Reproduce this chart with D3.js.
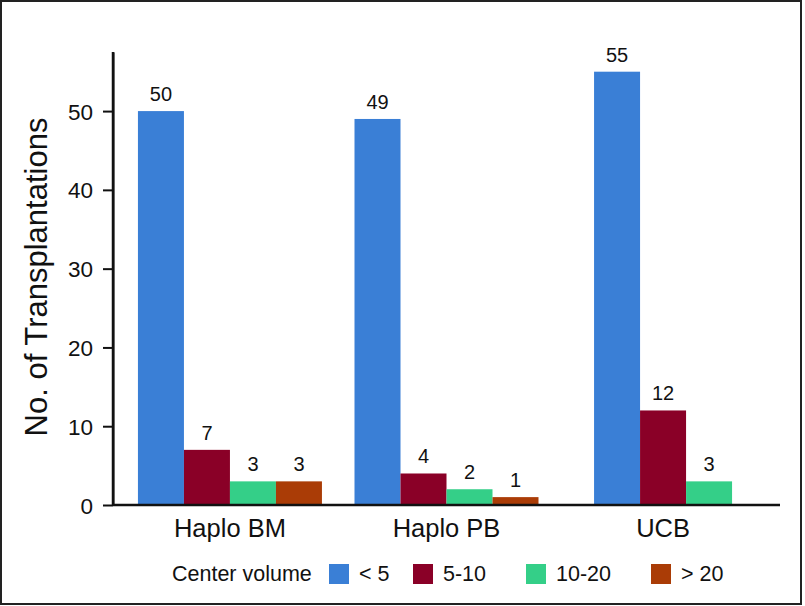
<!DOCTYPE html>
<html><head><meta charset="utf-8">
<script src="https://cdn.jsdelivr.net/npm/d3@7"></script>
<style>body{margin:0;background:#fff}svg{display:block;font-family:"Liberation Sans",Arial,sans-serif}</style>
</head><body><svg id="c" width="805" height="606"></svg>
<script>
const categories = ["Haplo BM", "Haplo PB", "UCB"];
const seriesNames = ["< 5", "5-10", "10-20", "> 20"];
const seriesColors = ["#3a7fd6", "#8a0027", "#34cf88", "#aa3c06"];
const valLt5 = [50, 49, 55];
const val5to10 = [7, 4, 12];
const val10to20 = [3, 2, 3];
const valGt20 = [3, 1, null];
const yTicks = [0, 10, 20, 30, 40, 50];
const yTitle = "No. of Transplantations";
const legendTitle = "Center volume";

const seriesVals = [valLt5, val5to10, val10to20, valGt20];
const svg = d3.select("#c");
svg.append("rect").attr("x", 1).attr("y", 1).attr("width", 800).attr("height", 603)
  .attr("fill", "#fff").attr("stroke", "#222").attr("stroke-width", 2);

const pL = 113, pR = 780, pT = 52, pB = 505;
const y = d3.scaleLinear().domain([0, 57.5]).range([pB, pT]);
const x = d3.scalePoint().domain(categories).range([pL, pR]).padding(0.54);
const barW = 46;

categories.forEach((c, ci) => {
  const present = seriesVals.map((s, si) => ({si, v: s[ci]})).filter(d => d.v != null);
  const x0 = x(c) - present.length * barW / 2;
  const g = svg.append("g");
  g.selectAll("rect").data(present).join("rect")
    .attr("x", (d, i) => x0 + i * barW).attr("width", barW)
    .attr("y", d => y(d.v)).attr("height", d => y(0) - y(d.v))
    .attr("fill", d => seriesColors[d.si]);
  g.selectAll("text").data(present).join("text")
    .attr("x", (d, i) => x0 + i * barW + barW / 2).attr("y", d => y(d.v) - 10)
    .attr("text-anchor", "middle").attr("font-size", 20).attr("fill", "#111")
    .text(d => d.v);
});

// y axis
const ya = svg.append("g").attr("transform", `translate(${pL},0)`)
  .call(d3.axisLeft(y).tickValues(yTicks).tickSize(10).tickPadding(10).tickSizeOuter(0));
ya.select(".domain").attr("stroke", "#111").attr("stroke-width", 2);
ya.selectAll(".tick line").attr("stroke", "#111").attr("stroke-width", 2);
ya.selectAll(".tick text").attr("font-size", 22.5).attr("fill", "#111").attr("font-family", "Liberation Sans, Arial, sans-serif").attr("dy", "0.36em");
svg.append("line").attr("x1", pL).attr("x2", pR).attr("y1", pB).attr("y2", pB)
  .attr("stroke", "#111").attr("stroke-width", 2.5);
svg.append("line").attr("x1", pL).attr("x2", pL).attr("y1", pT).attr("y2", pB)
  .attr("stroke", "#111").attr("stroke-width", 2.5);

// category labels
svg.selectAll("text.cat").data(categories).join("text").attr("class", "cat")
  .attr("x", d => x(d)).attr("y", 537).attr("text-anchor", "middle")
  .attr("font-size", 25.5).attr("fill", "#111").text(d => d);

// y title
svg.append("text").attr("transform", "translate(47,277) rotate(-90)")
  .attr("text-anchor", "middle").attr("font-size", 31).attr("fill", "#111").text(yTitle);

// legend
svg.append("text").attr("x", 172).attr("y", 581).attr("font-size", 21.5).attr("fill", "#111").text(legendTitle);
const legX = [329, 413, 526, 651];
seriesNames.forEach((n, i) => {
  svg.append("rect").attr("x", legX[i]).attr("y", 564).attr("width", 20).attr("height", 20).attr("fill", seriesColors[i]);
  svg.append("text").attr("x", legX[i] + 30).attr("y", 581).attr("font-size", 21.5).attr("fill", "#111").text(n);
});
</script></body></html>
